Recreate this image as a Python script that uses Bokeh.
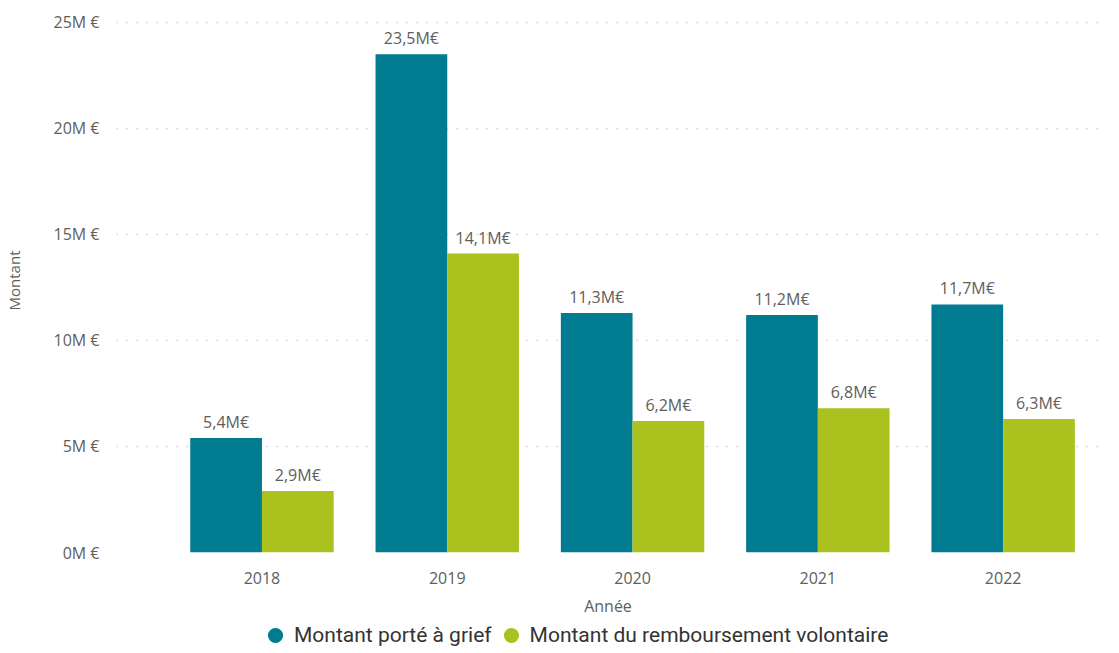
from bokeh.plotting import figure
from bokeh.models import (ColumnDataSource, Range1d, FixedTicker, CustomJSTickFormatter,
                          Legend, LegendItem)
from bokeh.layouts import column
from bokeh.core.properties import value
from bokeh.transform import dodge
from bokeh.embed import file_html
from bokeh.resources import INLINE

years = ["2018", "2019", "2020", "2021", "2022"]
grief = [5.4, 23.5, 11.3, 11.2, 11.7]
rembours = [2.9, 14.1, 6.2, 6.8, 6.3]
y_ticks = [0, 5, 10, 15, 20, 25]
series_names = ["Montant porté à grief", "Montant du remboursement volontaire"]
x_title = "Année"
y_title = "Montant"

TEAL = "#007B8F"
GREEN = "#ABC11E"
FONT = "Open Sans"
GREY = "#605E5C"

def fmt(v):
    return f"{v:.1f}".replace(".", ",") + "M€"

idx = list(range(len(years)))
src = ColumnDataSource(dict(
    x=idx, grief=grief, rembours=rembours,
    lg=[fmt(v) for v in grief], lr=[fmt(v) for v in rembours],
))

p = figure(width=1103, height=619, output_backend="svg", toolbar_location=None,
           x_range=Range1d(-0.785, 4.52), y_range=Range1d(0, 25.66),
           min_border_left=115, min_border_right=4, min_border_top=8, min_border_bottom=60)
p.outline_line_color = None

bw = 0.387
off = bw / 2
p.vbar(x=dodge("x", -off), top="grief", width=bw, source=src, color=TEAL, line_color=None)
p.vbar(x=dodge("x", off), top="rembours", width=bw, source=src, color=GREEN, line_color=None)

for col, lab, dx in (("grief", "lg", -off), ("rembours", "lr", off)):
    p.text(x=dodge("x", dx), y=col, text=lab, source=src,
           text_align="center", text_baseline="bottom", y_offset=-5,
           text_font=value(FONT), text_font_size="16px", text_color=GREY)

# axes
p.xaxis.ticker = FixedTicker(ticks=idx)
p.xaxis.major_label_overrides = {i: y for i, y in enumerate(years)}
p.xaxis.axis_line_color = None
p.xaxis.major_tick_line_color = None
p.xaxis.minor_tick_line_color = None
p.xaxis.major_label_standoff = 13
p.xaxis.major_label_text_font = FONT
p.xaxis.major_label_text_font_size = "16px"
p.xaxis.major_label_text_color = GREY
p.xaxis.axis_label = x_title
p.xaxis.axis_label_text_font = FONT
p.xaxis.axis_label_text_font_size = "16px"
p.xaxis.axis_label_text_font_style = "normal"
p.xaxis.axis_label_text_color = GREY
p.xaxis.axis_label_standoff = 8

p.yaxis.ticker = FixedTicker(ticks=y_ticks)
p.yaxis.formatter = CustomJSTickFormatter(code='return tick + "M €";')
p.yaxis.axis_line_color = None
p.yaxis.major_tick_line_color = None
p.yaxis.minor_tick_line_color = None
p.yaxis.major_label_standoff = 11
p.yaxis.major_label_text_font = FONT
p.yaxis.major_label_text_font_size = "16px"
p.yaxis.major_label_text_color = GREY
p.yaxis.axis_label = y_title
p.yaxis.axis_label_text_font = FONT
p.yaxis.axis_label_text_font_size = "15px"
p.yaxis.axis_label_text_font_style = "normal"
p.yaxis.axis_label_text_color = GREY
p.yaxis.axis_label_standoff = 27

p.xgrid.grid_line_color = None
p.ygrid.grid_line_color = "#B8B6B4"
p.ygrid.grid_line_dash = "1 9"
p.ygrid.grid_line_width = 1.5

# legend strip (separate figure so it can sit below the axis title)
lf = figure(width=1103, height=28, output_backend="svg", toolbar_location=None,
            x_axis_location=None, y_axis_location=None, min_border=0)
lf.outline_line_color = None
lf.grid.visible = False
r1 = lf.scatter(x="x", y="grief", source=src, marker="circle", size=15, color=TEAL,
                line_color=None, visible=False)
r2 = lf.scatter(x="x", y="rembours", source=src, marker="circle", size=15, color=GREEN,
                line_color=None, visible=False)
legend = Legend(items=[LegendItem(label=series_names[0], renderers=[r1]),
                       LegendItem(label=series_names[1], renderers=[r2])],
                orientation="horizontal", location=(140, -7),
                label_text_font="Roboto", label_text_font_size="21px",
                label_text_color="#333333", label_standoff=0, spacing=0,
                glyph_width=38, glyph_height=38, label_height=20,
                padding=0, margin=0, inactive_fill_alpha=0,
                border_line_color=None, background_fill_alpha=0)
lf.add_layout(legend, "center")

layout = column(p, lf, spacing=0)
open("out.html", "w").write(file_html(layout, INLINE))
